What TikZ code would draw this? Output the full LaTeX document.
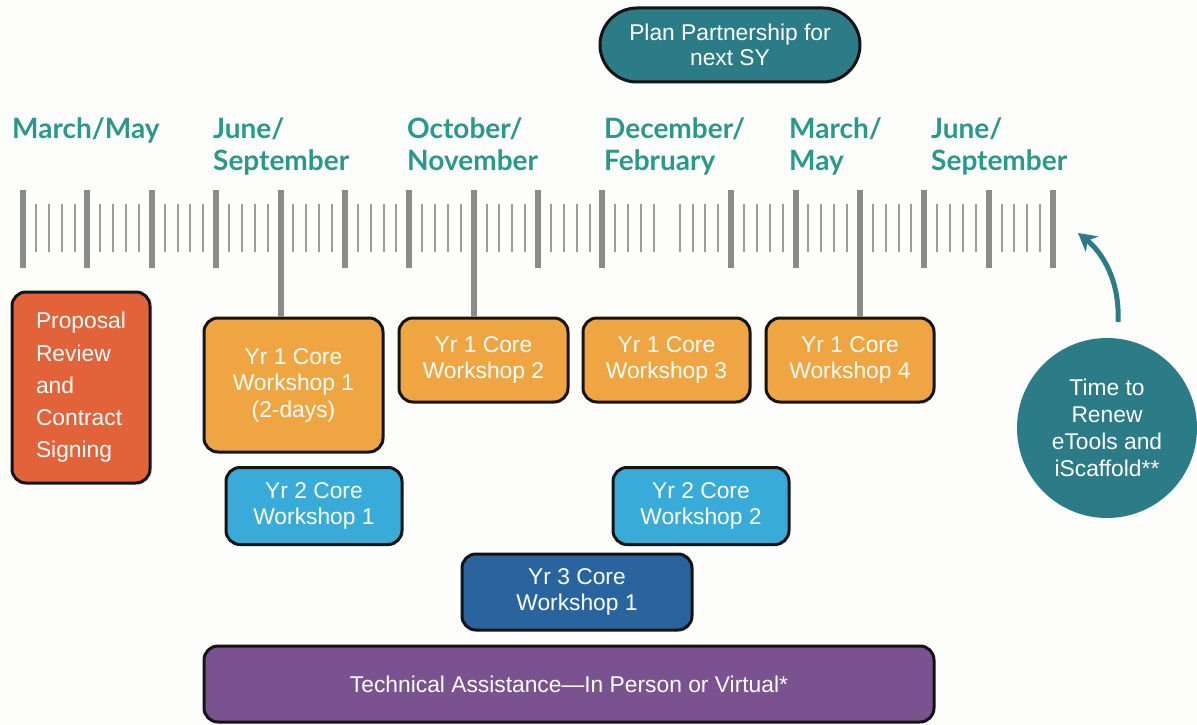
\documentclass[tikz,border=0pt]{standalone}
\usepackage{fontspec}
\setmainfont{Liberation Sans}
\newfontfamily\monthfont{Lato}
\usetikzlibrary{arrows.meta}
\definecolor{bgwhite}{HTML}{FDFDFB}
\definecolor{boxline}{HTML}{141414}
\definecolor{tickgray}{HTML}{8A8C87}
\definecolor{monthteal}{HTML}{2A988A}
\definecolor{propred}{HTML}{E2623A}
\definecolor{coreorange}{HTML}{EFA542}
\definecolor{yrtwoblue}{HTML}{38ABD8}
\definecolor{yrthreeblue}{HTML}{2A649F}
\definecolor{tapurple}{HTML}{7A528F}
\definecolor{renewteal}{HTML}{2C7C87}

\begin{document}
\begin{tikzpicture}[x=1pt,y=-1pt,
  box/.style={draw=boxline,line width=3pt,rounded corners=14pt,text=white,align=center,inner sep=0pt,font=\fontsize{22.8}{25.5}\selectfont},
  month/.style={anchor=base west,align=left,inner sep=0pt,text=monthteal,font=\monthfont\bfseries\fontsize{28}{32}\selectfont},
  majortick/.style={draw=tickgray,line width=6pt},
  minortick/.style={draw=tickgray!85,line width=2pt}]
  \fill[bgwhite] (0,0) rectangle (1197,725);
  \useasboundingbox (0,0) rectangle (1197,725);

  \node[month] (mar1) at (12,138) {March/May};
  \node[month] (jun1) at (213,170) {June/\\September};
  \node[month] (oct) at (407,170) {October/\\November};
  \node[month] (dec) at (604,170) {December/\\February};
  \node[month] (mar2) at (789,170) {March/\\May};
  \node[month] (jun2) at (931,170) {June/\\September};

  \foreach \i in {0,...,16}{
    \ifnum\i=10\else
      \draw[majortick] ({23+64.375*\i},190) -- ++(0,78);
    \fi
  }
  \foreach \i in {0,...,15}
    \foreach \k in {1,...,4}
      \draw[minortick] ({23+64.375*(\i+\k/5)},204) -- ++(0,48);
  \coordinate (t4) at (280.5,268);
  \coordinate (t7) at (473.6,268);
  \coordinate (t13) at (859.9,268);

  \node[box,fill=renewteal,minimum width=260,minimum height=74,rounded corners=37pt] (plan) at (730,45) {Plan Partnership for\\next SY};

  \node[box,fill=propred,minimum width=138,minimum height=191,text width=90,inner xsep=24,align=left,font=\fontsize{22.8}{32.3}\selectfont] (prop) at (81,387.5) {Proposal\\Review\\and\\Contract\\Signing};
  \node[box,fill=coreorange,minimum width=179,minimum height=134,font=\fontsize{22.8}{26.5}\selectfont] (y1w1) at (293.5,385) {Yr 1 Core\\Workshop 1\\(2-days)};
  \node[box,fill=coreorange,minimum width=169,minimum height=84] (y1w2) at (483.5,360) {Yr 1 Core\\Workshop 2};
  \node[box,fill=coreorange,minimum width=167,minimum height=84] (y1w3) at (666.5,360) {Yr 1 Core\\Workshop 3};
  \node[box,fill=coreorange,minimum width=168,minimum height=84] (y1w4) at (850,360) {Yr 1 Core\\Workshop 4};
  \node[box,fill=yrtwoblue,minimum width=176,minimum height=77] (y2w1) at (314,506) {Yr 2 Core\\Workshop 1};
  \node[box,fill=yrtwoblue,minimum width=176,minimum height=77] (y2w2) at (701,506) {Yr 2 Core\\Workshop 2};
  \node[box,fill=yrthreeblue,minimum width=230,minimum height=76] (y3w1) at (577,592) {Yr 3 Core\\Workshop 1};
  \node[box,fill=tapurple,minimum width=730,minimum height=76] (ta) at (569,684) {Technical Assistance---In Person or Virtual*};

  \draw[majortick] (t4) -- (t4 |- y1w1.north);
  \draw[majortick] (t7) -- (t7 |- y1w2.north);
  \draw[majortick] (t13) -- (t13 |- y1w4.north);

  \node[circle,fill=renewteal,minimum size=180,inner sep=0pt,text=white,align=center,font=\fontsize{22.8}{27}\selectfont] (renew) at (1107,428) {Time to\\Renew\\eTools and\\iScaffold**};
  \coordinate (rulerend) at (1078,233);
  \draw[renewteal,line width=5pt,-{Stealth[length=18pt,width=20pt]}] ([xshift=11pt,yshift=16pt]renew.north) .. controls +(2,-40) and +(25,20) .. (rulerend);
\end{tikzpicture}
\end{document}
